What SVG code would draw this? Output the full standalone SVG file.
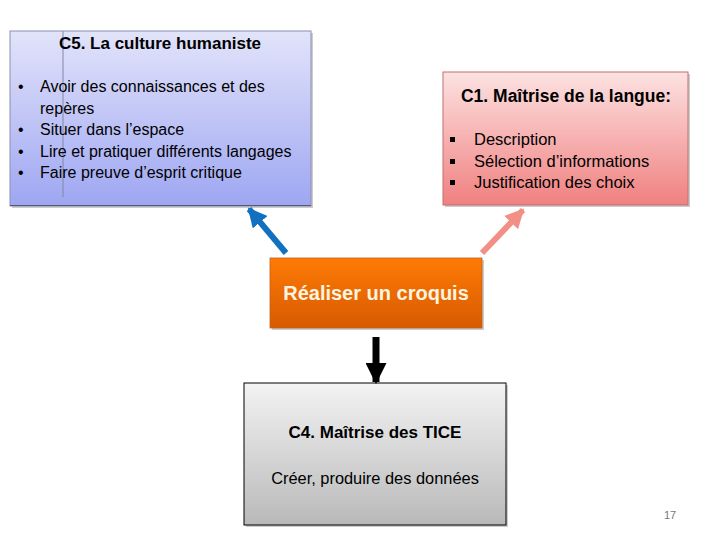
<svg xmlns="http://www.w3.org/2000/svg" width="720" height="540" viewBox="0 0 720 540">
<defs>
<linearGradient id="gBlue" x1="0" y1="0" x2="0" y2="1"><stop offset="0" stop-color="#e2e4fa"/><stop offset="1" stop-color="#9ea6f2"/></linearGradient>
<linearGradient id="gPink" x1="0" y1="0" x2="0" y2="1"><stop offset="0" stop-color="#fde2e2"/><stop offset="1" stop-color="#f08080"/></linearGradient>
<linearGradient id="gOrange" x1="0" y1="0" x2="0" y2="1"><stop offset="0" stop-color="#ff7b05"/><stop offset="1" stop-color="#d65a00"/></linearGradient>
<linearGradient id="gGray" x1="0" y1="0" x2="0" y2="1"><stop offset="0" stop-color="#f3f3f3"/><stop offset="1" stop-color="#b9b9b9"/></linearGradient>
<marker id="ahBlue" viewBox="0 0 10 10" refX="9" refY="5" markerWidth="3.2" markerHeight="3.2" orient="auto" markerUnits="strokeWidth"><path d="M0,0 L10,5 L0,10 z" fill="#1170c0"/></marker>
<marker id="ahPink" viewBox="0 0 10 10" refX="9" refY="5" markerWidth="3.2" markerHeight="3.2" orient="auto" markerUnits="strokeWidth"><path d="M0,0 L10,5 L0,10 z" fill="#f29088"/></marker>
<marker id="ahBlack" viewBox="0 0 10 10" refX="9" refY="5" markerWidth="3" markerHeight="3" orient="auto" markerUnits="strokeWidth"><path d="M0,0 L10,5 L0,10 z" fill="#000"/></marker>
</defs>
<style>
text{font-family:"Liberation Sans","Open Sans",sans-serif;fill:#000}
.t{font-size:17px;font-weight:bold}
.b{font-size:16px}
.sh{fill:#999;opacity:0.5}
</style>
<rect width="720" height="540" fill="#fff"/>
<g id="c5">
<rect class="sh" x="12" y="33" width="301" height="175"/>
<rect x="10" y="31" width="301" height="175" fill="url(#gBlue)" stroke="#8a8fb0" stroke-width="1"/>
<line x1="63" y1="31" x2="63" y2="197" stroke="#8088a8" stroke-width="1"/>
<line x1="10" y1="205.5" x2="311" y2="205.5" stroke="#555a70" stroke-width="1.2"/>
<text class="t" x="160" y="49" text-anchor="middle">C5. La culture humaniste</text>
<text x="18" y="92" class="b">•</text><text x="40" y="92" class="b">Avoir des connaissances et des</text>
<text x="40" y="114" class="b">repères</text>
<text x="18" y="135" class="b">•</text><text x="40" y="135" class="b">Situer dans l’espace</text>
<text x="18" y="157" class="b">•</text><text x="40" y="157" class="b">Lire et pratiquer différents langages</text>
<text x="18" y="178" class="b">•</text><text x="40" y="178" class="b">Faire preuve d’esprit critique</text>
</g>
<g id="c1">
<rect class="sh" x="445" y="74" width="245" height="133"/>
<rect x="443" y="72" width="245" height="133" fill="url(#gPink)" stroke="#c07070" stroke-width="1"/>
<text x="566" y="102" text-anchor="middle" style="font-size:17.5px;font-weight:bold">C1. Maîtrise de la langue:</text>
<rect x="450" y="137" width="5" height="5" fill="#000"/><text x="474" y="145" style="font-size:16.5px">Description</text>
<rect x="450" y="159" width="5" height="5" fill="#000"/><text x="474" y="167" style="font-size:16.5px">Sélection d’informations</text>
<rect x="450" y="180" width="5" height="5" fill="#000"/><text x="474" y="188" style="font-size:16.5px">Justification des choix</text>
</g>
<g id="croquis">
<rect class="sh" x="272" y="260" width="212" height="70"/>
<rect x="270" y="258" width="212" height="70" fill="url(#gOrange)" stroke="#c06020" stroke-width="0.8"/>
<text x="376" y="300" text-anchor="middle" style="font-size:20px;font-weight:bold;fill:#fff4e0">Réaliser un croquis</text>
</g>
<g id="c4">
<rect class="sh" x="246" y="385" width="262" height="142"/>
<rect x="244" y="383" width="262" height="142" fill="url(#gGray)" stroke="#000" stroke-width="1"/>
<text class="t" x="375" y="438" text-anchor="middle">C4. Maîtrise des TICE</text>
<text x="375" y="484" text-anchor="middle" style="font-size:16.4px">Créer, produire des données</text>
</g>
<g id="connectors">
<line x1="286" y1="253" x2="249" y2="209" stroke="#1170c0" stroke-width="6" marker-end="url(#ahBlue)"/>
<line x1="482" y1="253" x2="523" y2="210" stroke="#f29088" stroke-width="6" marker-end="url(#ahPink)"/>
<line x1="376" y1="337" x2="376" y2="382" stroke="#000" stroke-width="7" marker-end="url(#ahBlack)"/>
</g>
<text x="670" y="519" text-anchor="middle" style="font-size:11px;fill:#777">17</text>
</svg>
